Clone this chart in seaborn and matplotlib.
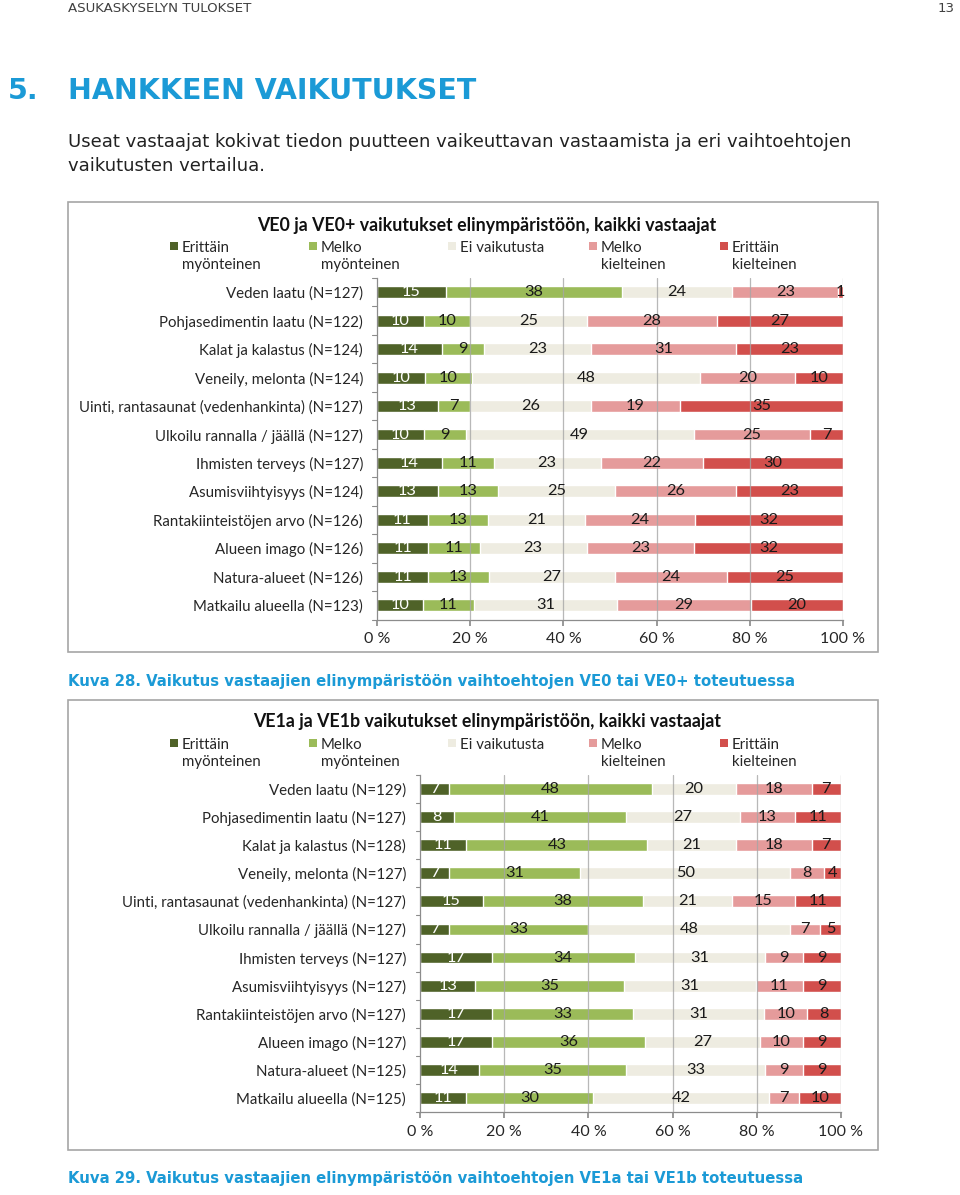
import numpy as np
import pandas as pd
import matplotlib
matplotlib.use('Agg')
import matplotlib.pyplot as plt
from matplotlib.patches import Rectangle
import seaborn as sns

sns.set_theme(style='white')
plt.rcParams['font.family'] = ['Lato', 'DejaVu Sans']

# data
categories = ['Erittäin\nmyönteinen', 'Melko\nmyönteinen', 'Ei vaikutusta',
              'Melko\nkielteinen', 'Erittäin\nkielteinen']
colors = ['#4f6228', '#9bbb59', '#eeece1', '#e59b9b', '#d24f4c']
text_colors = ['white', '#1a1a1a', '#1a1a1a', '#1a1a1a', '#1a1a1a']

items1 = ['Veden laatu (N=127)', 'Pohjasedimentin laatu (N=122)',
          'Kalat ja kalastus (N=124)', 'Veneily, melonta (N=124)',
          'Uinti, rantasaunat (vedenhankinta) (N=127)',
          'Ulkoilu rannalla / jäällä (N=127)', 'Ihmisten terveys (N=127)',
          'Asumisviihtyisyys (N=124)', 'Rantakiinteistöjen arvo (N=126)',
          'Alueen imago (N=126)', 'Natura-alueet (N=126)',
          'Matkailu alueella (N=123)']
values1 = [[15, 38, 24, 23, 1],
           [10, 10, 25, 28, 27],
           [14, 9, 23, 31, 23],
           [10, 10, 48, 20, 10],
           [13, 7, 26, 19, 35],
           [10, 9, 49, 25, 7],
           [14, 11, 23, 22, 30],
           [13, 13, 25, 26, 23],
           [11, 13, 21, 24, 32],
           [11, 11, 23, 23, 32],
           [11, 13, 27, 24, 25],
           [10, 11, 31, 29, 20]]

items2 = ['Veden laatu (N=129)', 'Pohjasedimentin laatu (N=127)',
          'Kalat ja kalastus (N=128)', 'Veneily, melonta (N=127)',
          'Uinti, rantasaunat (vedenhankinta) (N=127)',
          'Ulkoilu rannalla / jäällä (N=127)', 'Ihmisten terveys (N=127)',
          'Asumisviihtyisyys (N=127)', 'Rantakiinteistöjen arvo (N=127)',
          'Alueen imago (N=127)', 'Natura-alueet (N=125)',
          'Matkailu alueella (N=125)']
values2 = [[7, 48, 20, 18, 7],
           [8, 41, 27, 13, 11],
           [11, 43, 21, 18, 7],
           [7, 31, 50, 8, 4],
           [15, 38, 21, 15, 11],
           [7, 33, 48, 7, 5],
           [17, 34, 31, 9, 9],
           [13, 35, 31, 11, 9],
           [17, 33, 31, 10, 8],
           [17, 36, 27, 10, 9],
           [14, 35, 33, 9, 9],
           [11, 30, 42, 7, 10]]

tick_labels = ['0 %', '20 %', '40 %', '60 %', '80 %', '100 %']

blue = '#1b9ad6'
W, H = 960, 1195


def stacked(ax, items, values):
    df = pd.DataFrame(values, index=items, columns=categories)
    share = df.div(df.sum(axis=1), axis=0) * 100
    cum = share.cumsum(axis=1)
    # draw from the full bar down so each segment shows on top
    for k in range(len(categories) - 1, -1, -1):
        sns.barplot(x=cum.iloc[:, k].values, y=items, color=colors[k],
                    orient='h', width=0.42, saturation=1, ax=ax, zorder=2)
    for i, item in enumerate(items):
        for k in range(len(categories)):
            mid = cum.iloc[i, k] - share.iloc[i, k] / 2
            ax.text(mid, i, str(df.iloc[i, k]), ha='center', va='center',
                    fontsize=11.8, color=text_colors[k], zorder=4)
    ax.set_xlim(0, 100)
    ax.set_ylim(len(items) - 0.5, -0.5)
    ax.set_xticks([0, 20, 40, 60, 80, 100])
    ax.set_xticklabels(tick_labels, fontsize=11.5)
    ax.set_yticks(range(len(items)))
    ax.set_yticklabels(items, fontsize=10.8)
    ax.tick_params(axis='y', length=0, pad=10)
    ax.tick_params(axis='x', length=4, color='#8c8c8c', bottom=True, pad=5)
    # category boundary ticks on the left axis
    for b in np.arange(-0.5, len(items), 1):
        ax.plot([-1.0, 0], [b, b], color='#8c8c8c', lw=0.8,
                clip_on=False, zorder=3)
    for g in [20, 40, 60, 80, 100]:
        ax.axvline(g, color='#a6a6a6', lw=0.9, zorder=3, alpha=0.8)
    for s in ['top', 'right']:
        ax.spines[s].set_visible(False)
    for s in ['left', 'bottom']:
        ax.spines[s].set_color('#8c8c8c')
        ax.spines[s].set_linewidth(0.9)
    ax.set_xlabel('')
    ax.set_ylabel('')


fig = plt.figure(figsize=(9.6, 11.95), dpi=100)

# page texts
fig.text(68 / W, 1 - 8 / H, 'ASUKASKYSELYN TULOKSET', fontsize=9.6,
         color='#404040', va='center', family='DejaVu Sans')
fig.text(955 / W, 1 - 8 / H, '13', fontsize=9.6, color='#404040',
         va='center', ha='right', family='DejaVu Sans')
fig.text(8 / W, 1 - 91 / H, '5.', fontsize=20.5, color=blue,
         weight='bold', va='center', family='DejaVu Sans')
fig.text(68 / W, 1 - 91 / H, 'HANKKEEN VAIKUTUKSET', fontsize=20.5,
         color=blue, weight='bold', va='center', family='DejaVu Sans')
fig.text(68 / W, 1 - 142 / H,
         'Useat vastaajat kokivat tiedon puutteen vaikeuttavan vastaamista ja eri vaihtoehtojen',
         fontsize=13.0, color='#222222', va='center', family='DejaVu Sans')
fig.text(68 / W, 1 - 166 / H, 'vaikutusten vertailua.', fontsize=13.0,
         color='#222222', va='center', family='DejaVu Sans')
fig.text(68 / W, 1 - 681 / H,
         'Kuva 28. Vaikutus vastaajien elinympäristöön vaihtoehtojen VE0 tai VE0+ toteutuessa',
         fontsize=10.7, color=blue, weight='bold', va='center',
         family='DejaVu Sans')
fig.text(68 / W, 1 - 1179 / H,
         'Kuva 29. Vaikutus vastaajien elinympäristöön vaihtoehtojen VE1a tai VE1b toteutuessa',
         fontsize=10.7, color=blue, weight='bold', va='center',
         family='DejaVu Sans')

# chart frames
for top, bottom in [(202, 652), (700, 1150)]:
    fig.add_artist(Rectangle((68 / W, 1 - bottom / H), (878 - 68) / W,
                             (bottom - top) / H, transform=fig.transFigure,
                             fill=False, edgecolor='#a6a6a6', lw=1.2))

legend_x = [170, 309, 448, 589, 720]


def legend_and_title(title, title_y, leg_y):
    fig.text(487 / W, 1 - title_y / H, title, fontsize=12.8,
             weight='bold', ha='center', va='center', color='#111111')
    for x, c, lab in zip(legend_x, colors, categories):
        fig.add_artist(Rectangle((x / W, 1 - (leg_y + 4) / H), 8 / W, 8 / H,
                                 transform=fig.transFigure, facecolor=c,
                                 edgecolor='none'))
        fig.text((x + 12) / W, 1 - (leg_y - 5) / H, lab, fontsize=10.8,
                 va='top', ha='left', color='#262626', linespacing=1.3)


ax1 = fig.add_axes([377 / W, 1 - 619.5 / H, 466 / W, 341.5 / H])
stacked(ax1, items1, values1)
legend_and_title('VE0 ja VE0+ vaikutukset elinympäristöön, kaikki vastaajat',
                 226, 246)

ax2 = fig.add_axes([420 / W, 1 - 1112 / H, 421 / W, 337 / H])
stacked(ax2, items2, values2)
legend_and_title('VE1a ja VE1b vaikutukset elinympäristöön, kaikki vastaajat',
                 722, 743)

fig.savefig('out.png', dpi=100)
